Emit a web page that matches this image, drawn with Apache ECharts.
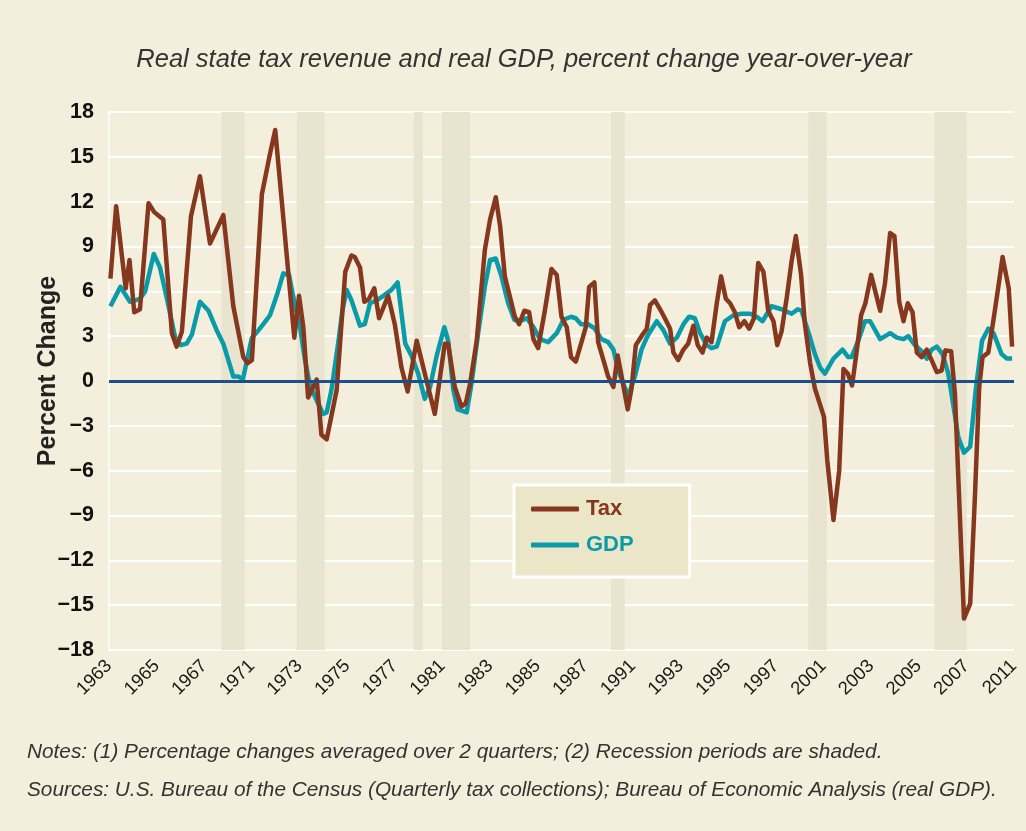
<!DOCTYPE html>
<html>
<head>
<meta charset="utf-8">
<script src="https://cdn.jsdelivr.net/npm/echarts@6/dist/echarts.min.js"></script>
<style>
html,body{margin:0;padding:0;background:#F3EFDC;}
#chart{width:1026px;height:831px;}
</style>
</head>
<body>
<div id="chart"></div>
<script>
// x position measured in quarters from the first axis label (10 quarters per label step)
const xLabels = ['1963','1965','1967','1971','1973','1975','1977','1981','1983','1985','1987','1991','1993','1995','1997','2001','2003','2005','2007','2011'];

const taxT = [0.3,1.5,3.5,4.3,5.3,6.5,8.3,9.5,11.4,13.2,14.2,15.3,17.2,19.1,21.2,24.0,26.1,28.2,29.1,30.0,32.1,33.8,34.9,
  38.9,39.9,40.8,41.8,43.6,44.6,45.7,47.8,49.6,50.9,51.6,52.7,53.6,54.6,55.7,56.7,58.6,60.0,61.4,62.7,64.6,66.3,68.4,70.5,71.2,72.6,74.0,74.9,
  75.8,77.2,78.9,80.0,81.2,82.1,83.1,84.2,85.2,86.1,87.2,88.2,89.1,90.1,91.5,92.9,94.0,95.0,96.1,97.0,98.0,99.2,100.1,100.8,101.9,102.7,103.8,104.8,105.9,106.8,107.8,108.9,109.7,110.6,111.8,112.9,
  113.6,114.6,115.7,116.7,117.8,118.5,119.5,120.6,121.6,122.7,123.6,124.6,125.5,126.5,127.6,128.5,129.5,130.4,131.4,132.3,133.4,134.4,135.4,136.3,137.4,138.4,139.5,140.3,141.2,142.3,143.3,144.2,145.3,146.1,147.2,148.2,149.3,150.1,150.8,152.1,153.3,
  154.2,155.1,156.0,157.0,157.9,158.8,160.0,160.8,161.9,162.9,164.0,164.9,165.9,166.8,167.7,168.7,169.6,170.6,171.7,172.7,173.8,174.8,175.6,176.8,177.6,179.5,180.8,181.8,182.7,183.4,184.6,185.7,186.8,187.6,188.9,189.6];
const taxV = [6.85,11.7,6.2,8.1,4.6,4.8,11.9,11.3,10.8,3.2,2.3,3.3,11.0,13.7,9.2,11.1,5.0,1.6,1.2,1.4,12.5,15.2,16.8,
  2.9,5.7,3.6,-1.1,0.1,-3.6,-3.9,-0.6,7.3,8.4,8.3,7.6,5.3,5.5,6.2,4.2,5.7,3.8,0.9,-0.7,2.7,0.5,-2.2,2.5,2.5,-0.4,-1.7,-1.5,
  -0.2,2.7,8.75,10.8,12.3,10.4,7.0,5.6,4.3,3.8,4.7,4.6,2.8,2.2,4.7,7.5,7.1,4.3,3.6,1.6,1.3,2.6,3.6,6.3,6.6,2.6,1.4,0.3,-0.4,1.7,0.0,-1.9,-0.5,2.4,3.0,3.5,
  5.1,5.4,4.8,4.2,3.5,1.9,1.4,2.1,2.5,3.7,2.4,1.9,2.9,2.6,5.2,7.0,5.5,5.2,4.6,3.6,4.0,3.5,4.2,7.9,7.3,4.7,4.0,2.4,3.3,5.6,8.0,9.7,7.1,3.8,1.2,-0.5,-1.6,-2.4,-5.3,-9.3,-6.0,
  0.8,0.5,-0.3,2.05,4.4,5.2,7.1,6.1,4.7,6.5,9.9,9.7,5.3,4.0,5.2,4.6,1.9,1.6,2.1,1.4,0.6,0.7,2.05,2.0,-0.85,-15.9,-14.9,-7.7,-0.4,1.6,1.9,4.1,6.5,8.3,6.2,2.3];

const gdpT = [0.3,2.4,4.4,5.5,6.5,7.6,9.4,10.7,12.1,13.9,15.1,16.3,17.4,19.1,20.9,22.6,24.0,26.1,27.2,28.1,30.0,31.4,32.4,33.8,35.2,36.6,37.8,
  38.7,40.1,41.1,42.2,43.6,45.0,45.7,46.7,48.1,49.0,49.9,50.9,52.7,53.7,54.8,56.2,57.6,59.3,60.6,62.2,63.5,64.9,66.3,67.4,68.8,70.4,71.2,72.3,73.2,75.1,
  76.1,77.5,78.9,80.0,81.2,82.4,83.8,85.1,86.3,87.7,89.1,90.5,92.2,94.0,95.4,97.0,98.0,99.1,100.6,102.0,103.4,104.8,105.9,106.9,108.0,109.0,110.4,111.8,112.9,
  113.6,115.0,116.4,117.8,119.2,120.6,121.8,123.0,124.1,125.5,126.5,127.6,129.3,131.1,132.8,134.6,136.0,137.2,139.1,141.2,143.3,144.6,145.4,146.9,148.2,149.3,150.3,
  152.1,154.0,155.2,155.9,157.3,158.7,159.8,161.9,164.0,165.4,166.8,167.8,169.2,170.6,171.7,172.7,173.8,175.0,176.2,177.2,178.3,179.5,180.8,182.0,183.3,184.6,185.7,187.4,188.5,189.6];
const gdpV = [5.0,6.3,5.3,5.4,5.5,6.0,8.5,7.6,5.6,2.9,2.4,2.5,3.1,5.3,4.7,3.4,2.5,0.3,0.3,0.1,2.9,3.4,3.8,4.4,5.7,7.2,7.1,
  5.6,3.6,1.5,-0.3,-1.3,-2.2,-2.1,-0.6,2.5,4.7,6.1,5.4,3.7,3.8,5.2,5.4,5.7,6.1,6.6,2.5,1.7,0.5,-1.2,-0.4,1.7,3.6,2.7,-0.6,-1.9,-2.1,
  -0.2,3.2,6.3,8.1,8.2,7.0,5.2,4.1,4.0,4.2,3.6,2.8,2.6,3.2,4.1,4.3,4.2,3.8,3.8,3.5,2.8,2.6,2.1,0.7,-0.2,-1.0,0.3,2.1,2.9,
  3.3,4.0,3.4,2.5,2.9,3.8,4.3,4.2,3.2,2.4,2.2,2.3,4.0,4.4,4.5,4.5,4.3,4.0,5.0,4.8,4.5,4.8,4.7,3.2,1.8,0.9,0.5,
  1.5,2.1,1.6,1.6,2.7,4.0,4.0,2.8,3.2,2.9,2.8,3.0,2.4,2.0,1.5,2.1,2.3,1.8,0.5,-1.5,-3.75,-4.8,-4.4,-0.5,2.7,3.5,3.2,1.8,1.5,1.5];

const recStart = [23.6,39.4,64.0,69.9,105.4,146.8,173.3];
const recEnd   = [28.5,45.3,65.9,75.8,108.3,150.7,180.1];

const TAX_COLOR = '#86381E';
const GDP_COLOR = '#0A9BA8';
const FONT = "'Liberation Sans', Arial, Helvetica, sans-serif";

const zip = (t, v) => t.map((x, i) => [x, v[i]]);

const chart = echarts.init(document.getElementById('chart'), null, {renderer: 'canvas'});
chart.setOption({
  animation: false,
  backgroundColor: '#F3EFDC',
  grid: {left: 109, right: 12, top: 112, bottom: 181, containLabel: false},
  xAxis: {
    type: 'value', min: 0, max: 190, interval: 10,
    axisLine: {show: false}, axisTick: {show: false}, splitLine: {show: false},
    axisLabel: {
      rotate: 45, margin: 13, fontSize: 18.5, color: '#1a1a1a', fontFamily: FONT,
      showMinLabel: true, showMaxLabel: true,
      formatter: v => xLabels[Math.round(v / 10)] || ''
    }
  },
  yAxis: {
    type: 'value', min: -18, max: 18, interval: 3,
    axisLine: {show: true, lineStyle: {color: '#ffffff', width: 1.5}},
    axisTick: {show: false},
    splitLine: {show: true, lineStyle: {color: '#ffffff', width: 2}},
    axisLabel: {
      margin: 15, fontSize: 21.5, fontWeight: 'bold', fontFamily: FONT,
      color: v => (v === 0 ? '#1B4F8A' : '#111'),
      formatter: v => (v < 0 ? '\u2212' + Math.abs(v) : String(v))
    }
  },
  legend: {
    orient: 'vertical', left: 514, top: 485,
    data: [
      {name: 'Tax', textStyle: {color: TAX_COLOR}},
      {name: 'GDP', textStyle: {color: GDP_COLOR}}
    ],
    icon: 'roundRect', itemWidth: 48, itemHeight: 5, itemGap: 14,
    backgroundColor: '#EBE6C8', borderColor: '#ffffff', borderWidth: 3, borderRadius: 0,
    padding: [13, 56, 21, 17],
    textStyle: {fontSize: 22, fontWeight: 'bold', fontFamily: FONT, lineHeight: 22, padding: [0, 0, 0, 2]}
  },
  graphic: [
    {type: 'text', x: 524, y: 60, style: {
      text: 'Real state tax revenue and real GDP, percent change year-over-year',
      font: "italic 25.5px " + FONT, fill: '#333', align: 'center', verticalAlign: 'middle'}},
    {type: 'text', x: 48, y: 371, rotation: Math.PI / 2, style: {
      text: 'Percent Change', font: "bold 25px " + FONT, fill: '#222',
      align: 'center', verticalAlign: 'middle'}},
    {type: 'text', x: 27, y: 752, style: {
      text: 'Notes: (1) Percentage changes averaged over 2 quarters; (2) Recession periods are shaded.',
      font: "italic 20.8px " + FONT, fill: '#333', verticalAlign: 'middle'}},
    {type: 'text', x: 27, y: 790, style: {
      text: 'Sources: U.S. Bureau of the Census (Quarterly tax collections); Bureau of Economic Analysis (real GDP).',
      font: "italic 20.8px " + FONT, fill: '#333', verticalAlign: 'middle'}}
  ],
  series: [
    {
      name: 'GDP', type: 'line', data: zip(gdpT, gdpV), showSymbol: false, symbol: 'none',
      lineStyle: {color: GDP_COLOR, width: 4.5, join: 'round'}, itemStyle: {color: GDP_COLOR},
      z: 3,
      markArea: {
        silent: true, z: 1,
        itemStyle: {color: '#E8E4CF'},
        data: recStart.map((s, i) => [{xAxis: s}, {xAxis: recEnd[i]}])
      },
      markLine: {
        silent: true, symbol: 'none', label: {show: false},
        lineStyle: {color: '#1B4F8A', width: 3, type: 'solid'},
        data: [{yAxis: 0}]
      }
    },
    {
      name: 'Tax', type: 'line', data: zip(taxT, taxV), showSymbol: false, symbol: 'none',
      lineStyle: {color: TAX_COLOR, width: 4.5, join: 'round'}, itemStyle: {color: TAX_COLOR},
      z: 4
    }
  ]
});
</script>
</body>
</html>
